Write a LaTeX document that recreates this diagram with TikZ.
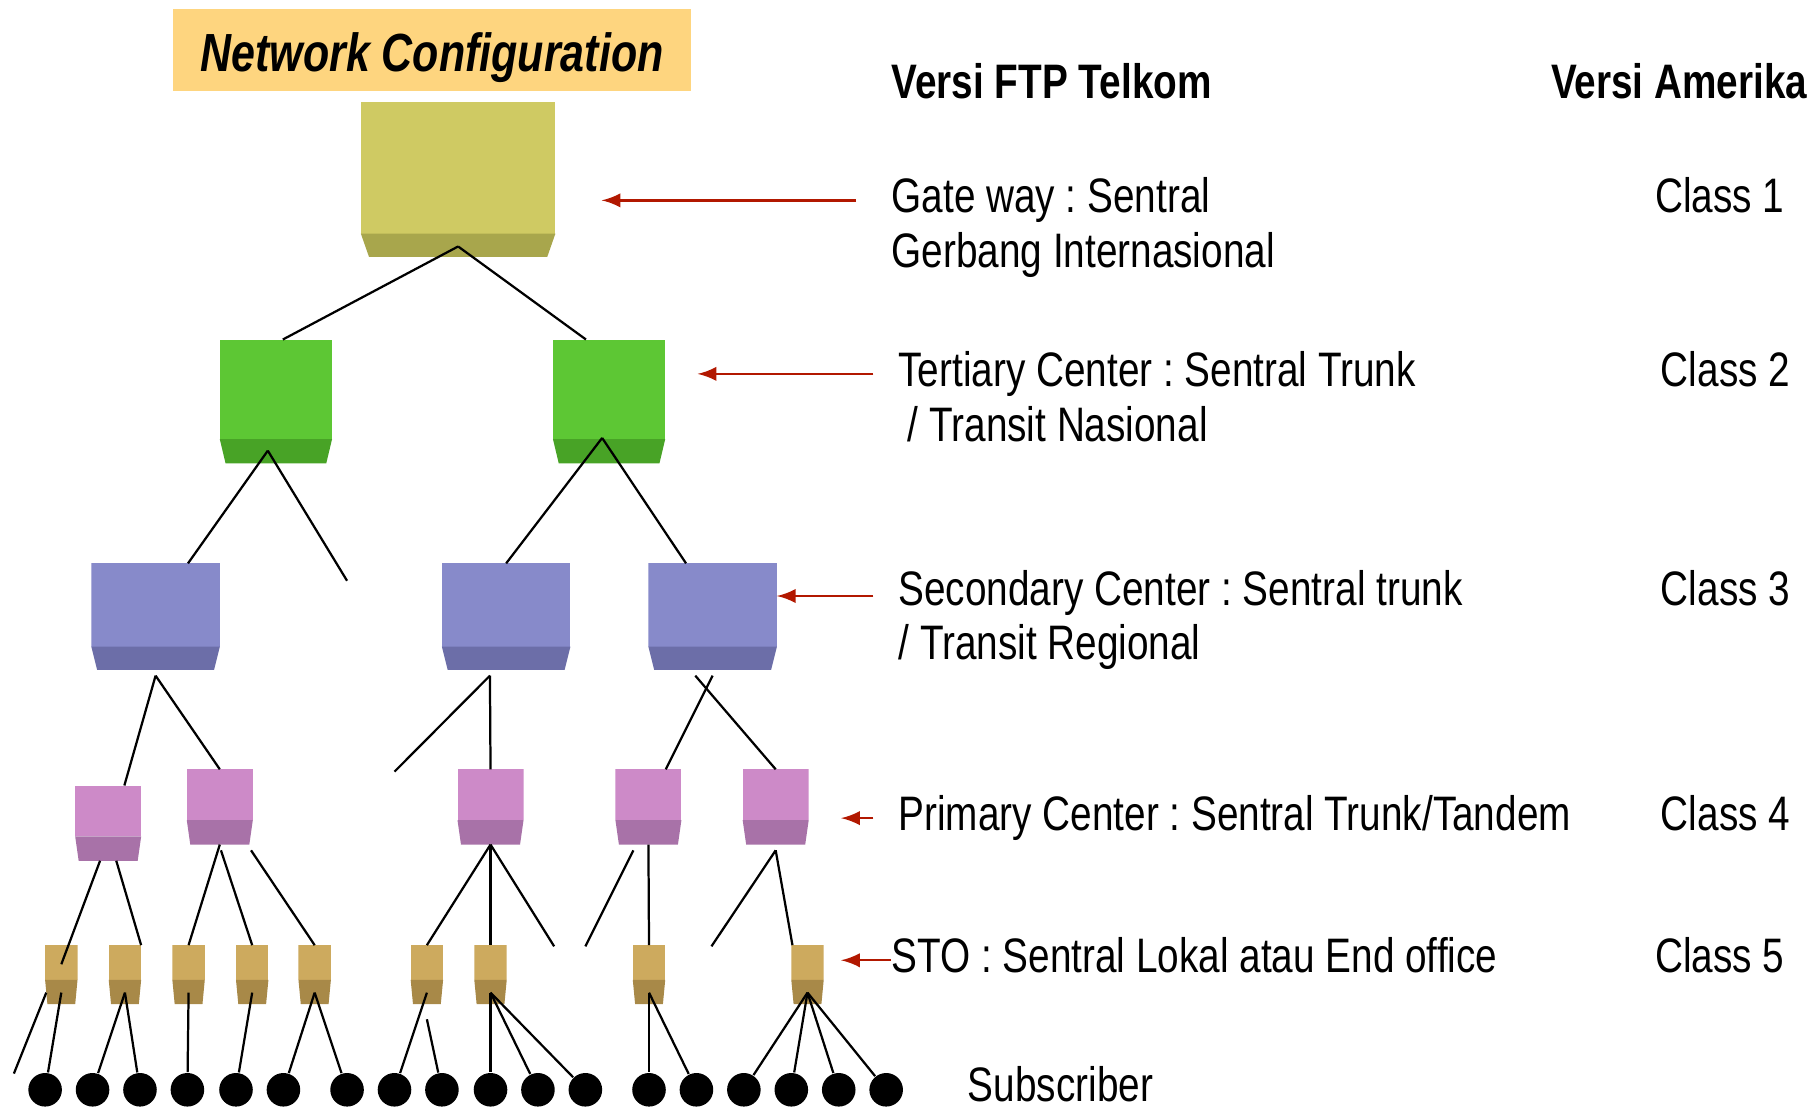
\documentclass[tikz,border=0pt]{standalone}
\usepackage{fontspec}
\setmainfont{Liberation Sans}[FakeStretch=0.8]
\usetikzlibrary{calc}
\frenchspacing

\definecolor{titlebg}{RGB}{254,213,127}
\definecolor{gwface}{RGB}{207,202,99}
\definecolor{gwband}{RGB}{168,166,76}
\definecolor{tcface}{RGB}{93,199,52}
\definecolor{tcband}{RGB}{72,163,38}
\definecolor{scface}{RGB}{135,138,202}
\definecolor{scband}{RGB}{108,110,168}
\definecolor{pcface}{RGB}{205,138,200}
\definecolor{pcband}{RGB}{168,114,168}
\definecolor{stoface}{RGB}{205,170,94}
\definecolor{stoband}{RGB}{168,137,72}
\definecolor{arrowred}{RGB}{178,24,0}

\tikzset{
  sentral/.style n args={6}{minimum width=#1cm, minimum height=#2cm, inner sep=0pt, outer sep=0pt, fill=white,
    path picture={
      \fill[#5] (path picture bounding box.north west) rectangle ([yshift=#3cm]path picture bounding box.south east);
      \fill[#6] ([yshift=#3cm]path picture bounding box.south west) -- ([yshift=#3cm]path picture bounding box.south east)
        -- ([xshift=-#4cm]path picture bounding box.south east) -- ([xshift=#4cm]path picture bounding box.south west) -- cycle;
    }},
  gwbox/.style={sentral={1.68}{1.34}{0.20}{0.07}{gwface}{gwband}},
  tcbox/.style={sentral={0.97}{1.07}{0.21}{0.05}{tcface}{tcband}},
  scbox/.style={sentral={1.11}{0.92}{0.20}{0.05}{scface}{scband}},
  pcbox/.style={sentral={0.57}{0.65}{0.21}{0.03}{pcface}{pcband}},
  stobox/.style={sentral={0.28}{0.51}{0.21}{0.02}{stoface}{stoband}},
  dot/.style={circle, fill=black, inner sep=0pt, minimum size=0.29cm},
  lbl/.style={anchor=base west, inner sep=0pt, font=\fontsize{11.9}{14}\selectfont},
  hdr/.style={anchor=base west, inner sep=0pt, font=\fontsize{11.9}{14}\selectfont\bfseries},
  link/.style={line width=0.55pt},
  pointer/.style={draw=arrowred, line width=0.6pt, -latex}
}

\begin{document}
\begin{tikzpicture}[x=0.01cm, y=-0.01cm]
  \useasboundingbox (0,0) rectangle (1568,957);
  % Title
  \node[fill=titlebg, minimum width=4.47cm, minimum height=0.71cm, inner sep=0pt,
        text height=0.45cm, text depth=0.08cm, font=\fontsize{13.2}{15}\selectfont\bfseries\itshape]
        (title) at (373.5,43.5) {Network Configuration};
  % Gateway
  \node[gwbox] (gw) at (396,155) {};
  % Tertiary Centers
  \node[tcbox] (tc1) at (238.5,347) {};
  \node[tcbox] (tc2) at (526.5,347) {};
  % Secondary Centers
  \node[scbox] (sc1) at (134.5,533) {};
  \node[scbox] (sc2) at (437.5,533) {};
  \node[scbox] (sc3) at (616,533) {};
  % Primary Centers
  \node[pcbox] (pc1) at (93.5,711.5) {};
  \node[pcbox] (pc2) at (190,697.5) {};
  \node[pcbox] (pc3) at (424,697.5) {};
  \node[pcbox] (pc4) at (560.5,697.5) {};
  \node[pcbox] (pc5) at (670.5,697.5) {};
  % STO
  \node[stobox] (sto1) at (53,842.5) {};
  \node[stobox] (sto2) at (108,842.5) {};
  \node[stobox] (sto3) at (163,842.5) {};
  \node[stobox] (sto4) at (218,842.5) {};
  \node[stobox] (sto5) at (272,842.5) {};
  \node[stobox] (sto6) at (369,842.5) {};
  \node[stobox] (sto7) at (424,842.5) {};
  \node[stobox] (sto8) at (561,842.5) {};
  \node[stobox] (sto9) at (698,842.5) {};
  % Subscribers
  \node[dot] (d1) at (39,942) {};
  \node[dot] (d2) at (80,942) {};
  \node[dot] (d3) at (121,942) {};
  \node[dot] (d4) at (162,942) {};
  \node[dot] (d5) at (204,942) {};
  \node[dot] (d6) at (245,942) {};
  \node[dot] (d7) at (300,942) {};
  \node[dot] (d8) at (341,942) {};
  \node[dot] (d9) at (382,942) {};
  \node[dot] (d10) at (424,942) {};
  \node[dot] (d11) at (465,942) {};
  \node[dot] (d12) at (506,942) {};
  \node[dot] (d13) at (561,942) {};
  \node[dot] (d14) at (602,942) {};
  \node[dot] (d15) at (643,942) {};
  \node[dot] (d16) at (684,942) {};
  \node[dot] (d17) at (725,942) {};
  \node[dot] (d18) at (766,942) {};
  % Open line ends
  \coordinate (tcend) at (300,502);
  \coordinate (scend) at (341,667);
  \coordinate (pcend3) at (479,818);
  \coordinate (pcend4) at (506,818);
  \coordinate (pcend5) at (615,818);
  \coordinate (stoend) at (12,928);
  % Lines gateway - tertiary
  \draw[link] (gw.south) ++(0,-9) -- ($(tc1.north)+(6,0)$);
  \draw[link] (gw.south) ++(0,-9) -- ($(tc2.north)+(-20,0)$);
  % Lines tertiary - secondary
  \draw[link] (tc1.south) ++(-7,-11) -- ($(sc1.north)+(28,0)$);
  \draw[link] (tc1.south) ++(-7,-11) -- (tcend);
  \draw[link] (tc2.south) ++(-6,-22) -- (sc2.north);
  \draw[link] (tc2.south) ++(-6,-22) -- ($(sc3.north)+(-23,0)$);
  % Lines secondary - primary
  \draw[link] (sc1.south) ++(0,5) -- ($(pc1.north)+(14,0)$);
  \draw[link] (sc1.south) ++(0,5) -- (pc2.north);
  \draw[link] (sc2.south) ++(-14,5) -- (scend);
  \draw[link] (sc2.south) ++(-14,5) -- (pc3.north);
  \draw[link] (sc3.south) ++(0,5) -- ($(pc4.north)+(15,0)$);
  \draw[link] (sc3.south) ++(-15,5) -- (pc5.north);
  % Lines primary - STO
  \draw[link] (pc1.south) ++(-7,0) -- ($(sto1.center)+(0,-9)$);
  \draw[link] (pc1.south) ++(7,0) -- ($(sto2.north)+(14,0)$);
  \draw[link] (pc2.south) -- (sto3.north);
  \draw[link] (pc2.south) ++(1,5) -- (sto4.north);
  \draw[link] (pc2.south) ++(27,5) -- (sto5.north);
  \draw[link] (pc3.south) -- (sto6.north);
  \draw[link] (pc3.south) -- (sto7.north);
  \draw[link] (pc3.south) -- (pcend3);
  \draw[link] (pc4.south) ++(-13,5) -- (pcend4);
  \draw[link] (pc4.south) -- (sto8.north);
  \draw[link] (pc5.south) ++(0,5) -- (pcend5);
  \draw[link] (pc5.south) ++(0,5) -- ($(sto9.north)+(-13,0)$);
  % Lines STO - subscriber
  \draw[link] (sto1.south) ++(-13,-10) -- (stoend);
  \draw[link] (sto1.south) ++(0,-10) -- (d1);
  \draw[link] (sto2.south) ++(0,-10) -- (d2);
  \draw[link] (sto2.south) ++(0,-10) -- (d3);
  \draw[link] (sto3.south) ++(0,-10) -- (d4);
  \draw[link] (sto4.south) ++(0,-10) -- (d5);
  \draw[link] (sto5.south) ++(0,-10) -- (d6);
  \draw[link] (sto5.south) ++(0,-10) -- (d7);
  \draw[link] (sto6.south) ++(0,-10) -- (d8);
  \draw[link] (sto6.south) ++(0,13) -- (d9);
  \draw[link] (sto7.south) ++(0,-10) -- (d10);
  \draw[link] (sto7.south) ++(0,-10) -- (d11);
  \draw[link] (sto7.south) ++(0,-10) -- (d12);
  \draw[link] (sto8.south) ++(0,-10) -- (d13);
  \draw[link] (sto8.south) ++(0,-10) -- (d14);
  \draw[link] (sto9.south) ++(0,-10) -- (d15);
  \draw[link] (sto9.south) ++(0,-10) -- (d16);
  \draw[link] (sto9.south) ++(0,-10) -- (d17);
  \draw[link] (sto9.south) ++(0,-10) -- (d18);
  % Headings
  \node[hdr] (ftp) at (770,85) {Versi FTP Telkom};
  \node[hdr] (usa) at (1340,85) {Versi Amerika};
  % Labels
  \node[lbl] (gwtxt) at (770,184) {Gate way : Sentral};
  \node[lbl] (gwtxtb) at (770,231) {Gerbang Internasional};
  \node[lbl] (cls1) at (1430,184) {Class 1};
  \node[lbl] (tctxt) at (776,334) {Tertiary Center : Sentral Trunk};
  \node[lbl] (tctxtb) at (784,382) {/ Transit Nasional};
  \node[lbl] (cls2) at (1435,334) {Class 2};
  \node[lbl] (sctxt) at (776,523) {Secondary Center : Sentral trunk};
  \node[lbl] (sctxtb) at (776,570) {/ Transit Regional};
  \node[lbl] (cls3) at (1435,523) {Class 3};
  \node[lbl] (pctxt) at (776,718) {Primary Center : Sentral Trunk/Tandem};
  \node[lbl] (cls4) at (1435,718) {Class 4};
  \node[lbl] (stotxt) at (770,841) {STO : Sentral Lokal atau End office};
  \node[lbl] (cls5) at (1430,841) {Class 5};
  \node[lbl] (subtxt) at (836,952) {Subscriber};
  % Red arrows
  \draw[pointer] ($(gwtxt.west)+(-30,0)$) -- ($(gw.east |- gwtxt.west)+(40,0)$);
  \draw[pointer] ($(tctxt.west)+(-21,0)$) -- ($(tc2.east |- tctxt.west)+(28,0)$);
  \draw[pointer] ($(sctxt.west)+(-21,3)$) -- ($(sc3.east |- sctxt.west)+(0,3)$);
  \draw[pointer] ($(pctxt.west)+(-21,0)$) -- ($(pc5.east |- pctxt.west)+(28,0)$);
  \draw[pointer] ($(stotxt.west)+(0,4)$) -- ($(sto9.east |- stotxt.west)+(15,4)$);
\end{tikzpicture}
\end{document}
